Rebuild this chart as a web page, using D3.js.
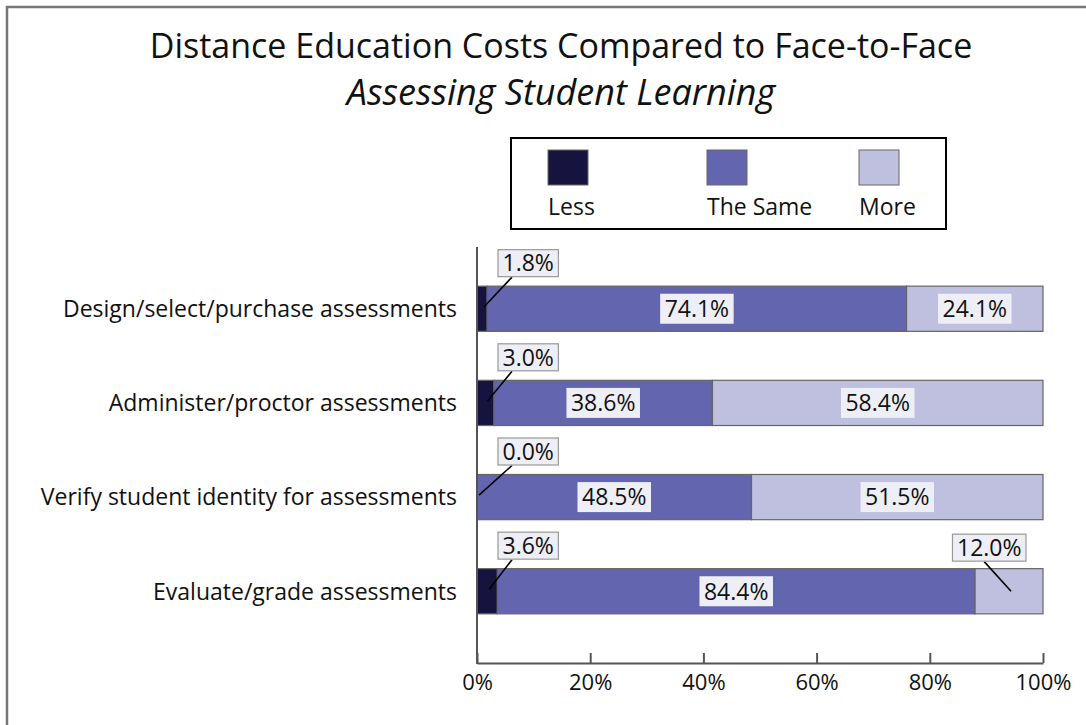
<!DOCTYPE html>
<html>
<head>
<meta charset="utf-8">
<script src="https://cdn.jsdelivr.net/npm/d3@7"></script>
<style>
  body { margin: 0; background: #fff; }
  svg { display: block; font-family: "Open Sans", sans-serif; }
</style>
</head>
<body>
<div id="chart"></div>
<script>
// chart values
var categories = [
  "Design/select/purchase assessments",
  "Administer/proctor assessments",
  "Verify student identity for assessments",
  "Evaluate/grade assessments"
];
var seriesNames = ["Less", "The Same", "More"];
var lessValues = [1.8, 3.0, 0.0, 3.6];
var sameValues = [74.1, 38.6, 48.5, 84.4];
var moreValues = [24.1, 58.4, 51.5, 12.0];
var xTicks = [0, 20, 40, 60, 80, 100];

var width = 1086, height = 725;
var colors = ["#16143f", "#6366ae", "#bfbfdf"];
var labelSize = "23px";

var rows = categories.map(function(c, i) {
  return { cat: c, "Less": lessValues[i], "The Same": sameValues[i], "More": moreValues[i] };
});

var svg = d3.select("#chart").append("svg")
  .attr("width", width)
  .attr("height", height);

// outer frame (runs off the right and bottom edge)
svg.append("rect")
  .attr("x", 7).attr("y", 7)
  .attr("width", 1200).attr("height", 900)
  .attr("fill", "none")
  .attr("stroke", "#777")
  .attr("stroke-width", 2.5);

svg.append("text")
  .attr("x", 561).attr("y", 58)
  .attr("text-anchor", "middle")
  .style("font-size", "34px")
  .attr("fill", "#111")
  .text("Distance Education Costs Compared to Face-to-Face");

svg.append("text")
  .attr("x", 561).attr("y", 105)
  .attr("text-anchor", "middle")
  .style("font-size", "36px")
  .style("font-style", "italic")
  .attr("fill", "#111")
  .text("Assessing Student Learning");

// legend
var legend = svg.append("g");
legend.append("rect")
  .attr("x", 511).attr("y", 138)
  .attr("width", 435).attr("height", 91)
  .attr("fill", "#fff")
  .attr("stroke", "#000")
  .attr("stroke-width", 2);

var legendX = d3.scalePoint().domain(seriesNames).range([548, 859]);
var legendItems = legend.selectAll("g.item")
  .data(seriesNames)
  .join("g")
    .attr("class", "item")
    .attr("transform", function(d, i) {
      var x = i === 1 ? 707 : legendX(d);
      return "translate(" + x + ",0)";
    });
legendItems.append("rect")
  .attr("x", 0).attr("y", 150)
  .attr("width", 40).attr("height", 35)
  .attr("fill", function(d, i) { return colors[i]; })
  .attr("stroke", "#666")
  .attr("stroke-width", 1);
legendItems.append("text")
  .attr("x", 0).attr("y", 215)
  .style("font-size", labelSize)
  .attr("fill", "#111")
  .text(function(d) { return d; });

// scales
var x = d3.scaleLinear().domain([0, 100]).range([477, 1043]);
var y = d3.scaleBand().domain(categories).range([240, 660])
  .paddingInner(0.52).paddingOuter(0.49);

var stack = d3.stack().keys(seriesNames);
var layers = stack(rows);

// bars
var layerG = svg.selectAll("g.layer")
  .data(layers)
  .join("g")
    .attr("class", "layer")
    .attr("fill", function(d, i) { return colors[i]; });

layerG.selectAll("rect")
  .data(function(d) { return d; })
  .join("rect")
    .attr("x", function(d) { return x(d[0]); })
    .attr("y", function(d) { return y(d.data.cat); })
    .attr("width", function(d) { return x(d[1]) - x(d[0]); })
    .attr("height", y.bandwidth())
    .attr("stroke", "#666")
    .attr("stroke-width", 1.2);

// axes
var xAxis = d3.axisBottom(x)
  .tickValues(xTicks)
  .tickFormat(function(d) { return d + "%"; })
  .tickSizeInner(-10)
  .tickSizeOuter(0)
  .tickPadding(11.5);

var axisG = svg.append("g")
  .attr("transform", "translate(0,663)")
  .call(xAxis);
axisG.select(".domain").attr("stroke", "#555").attr("stroke-width", 2);
axisG.selectAll(".tick line").attr("stroke", "#555").attr("stroke-width", 2);
axisG.selectAll(".tick text")
  .attr("fill", "#111")
  .style("font-family", "'Open Sans', sans-serif")
  .style("font-size", "22px");

svg.append("line")
  .attr("x1", x(0)).attr("x2", x(0))
  .attr("y1", 247).attr("y2", 664)
  .attr("stroke", "#555")
  .attr("stroke-width", 2);

svg.selectAll("text.cat")
  .data(categories)
  .join("text")
    .attr("class", "cat")
    .attr("x", x(0) - 20)
    .attr("y", function(d) { return y(d) + y.bandwidth() / 2; })
    .attr("dy", "0.36em")
    .attr("text-anchor", "end")
    .style("font-size", labelSize)
    .attr("fill", "#111")
    .text(function(d) { return d; });

// value labels
function addBox(g, cx, cy, txt, bordered) {
  var t = g.append("text")
    .attr("x", cx).attr("y", cy)
    .attr("dy", "0.36em")
    .attr("text-anchor", "middle")
    .style("font-size", labelSize)
    .attr("fill", "#111")
    .text(txt);
  var bb = t.node().getBBox();
  var h = bordered ? 27 : 30;
  g.insert("rect", "text")
    .attr("x", bb.x - 4.5).attr("y", cy - h / 2)
    .attr("width", bb.width + 9).attr("height", h)
    .attr("fill", "#eeeef6")
    .attr("stroke", bordered ? "#999" : "none")
    .attr("stroke-width", 1.2);
}

function textWidth(txt) {
  var tmp = svg.append("text").style("font-size", labelSize).text(txt);
  var w = tmp.node().getComputedTextLength() + 9;
  tmp.remove();
  return w;
}

layers.forEach(function(layer, si) {
  layer.forEach(function(d) {
    var v = d[1] - d[0];
    var txt = v.toFixed(1) + "%";
    var g = svg.append("g");
    var top = y(d.data.cat);
    var mid = top + y.bandwidth() / 2;
    var segMid = (x(d[0]) + x(d[1])) / 2;
    if (v >= 15) {
      addBox(g, segMid, mid, txt, false);
      return;
    }
    var line = g.append("line").attr("stroke", "#000").attr("stroke-width", 1.6);
    var w = textWidth(txt);
    var boxCy;
    if (si === 0) {
      // callout just right of the axis, above the bar
      var left = x(0) + 21;
      boxCy = top - 23;
      addBox(g, left + w / 2, boxCy, txt, true);
      line.attr("x1", left + 14).attr("y1", boxCy + 14)
        .attr("x2", segMid + 2).attr("y2", mid - 2);
    } else {
      var right = x(100) - 17;
      boxCy = top - 21;
      addBox(g, right - w / 2, boxCy, txt, true);
      line.attr("x1", right - w / 2 - 5).attr("y1", boxCy + 14)
        .attr("x2", segMid + 2).attr("y2", mid);
    }
  });
});
</script>
</body>
</html>
